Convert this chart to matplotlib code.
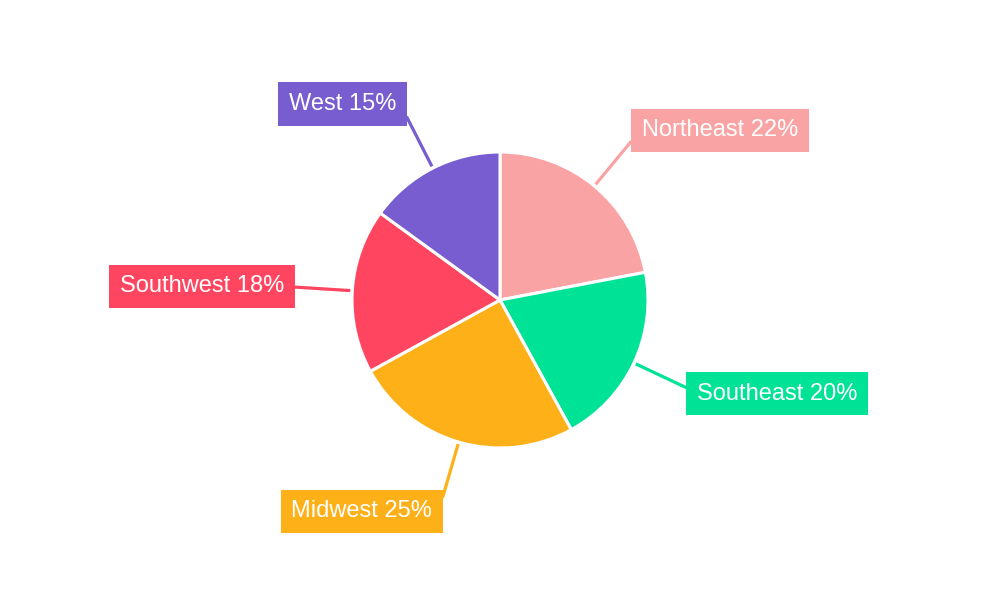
import numpy as np
import matplotlib.pyplot as plt

plt.rcParams['font.family'] = ['Liberation Sans', 'DejaVu Sans']

regions = ['Northeast', 'Southeast', 'Midwest', 'Southwest', 'West']
shares = [22, 20, 25, 18, 15]
colors = ['#F9A3A4', '#00E396', '#FEB019', '#FF4560', '#775DD0']

fig = plt.figure(figsize=(10, 6), dpi=100)
ax = fig.add_axes([0, 0, 1, 1])

cx, cy, r = 500, 300, 148
ax.pie(shares, colors=colors, startangle=90, counterclock=False,
       center=(cx, cy), radius=r,
       wedgeprops=dict(edgecolor='white', linewidth=2.2))

total = sum(shares)
start = 90.0
for name, val, col in zip(regions, shares, colors):
    span = val / total * 360
    mid = np.deg2rad(start - span / 2)
    start -= span
    c, s = np.cos(mid), np.sin(mid)
    x0, y0 = cx + 150 * c, cy + 150 * s
    x1, y1 = cx + 206 * c, cy + 206 * s
    ax.plot([x0, x1], [y0, y1], color=col, lw=2.3, solid_capstyle='butt')
    ha = 'left' if c > 0 else 'right'
    pad = 10.5 if c > 0 else -10.5
    ax.text(x1 + pad, y1 + 14 * s, f'{name} {val}%', ha=ha, va='center',
            fontsize=17, color='white',
            bbox=dict(boxstyle='square,pad=0.45', fc=col, ec='none'))

ax.set_xlim(0, 1000)
ax.set_ylim(0, 600)
ax.set_aspect('equal')
ax.axis('off')

fig.savefig('out.png', dpi=100, facecolor='white')
